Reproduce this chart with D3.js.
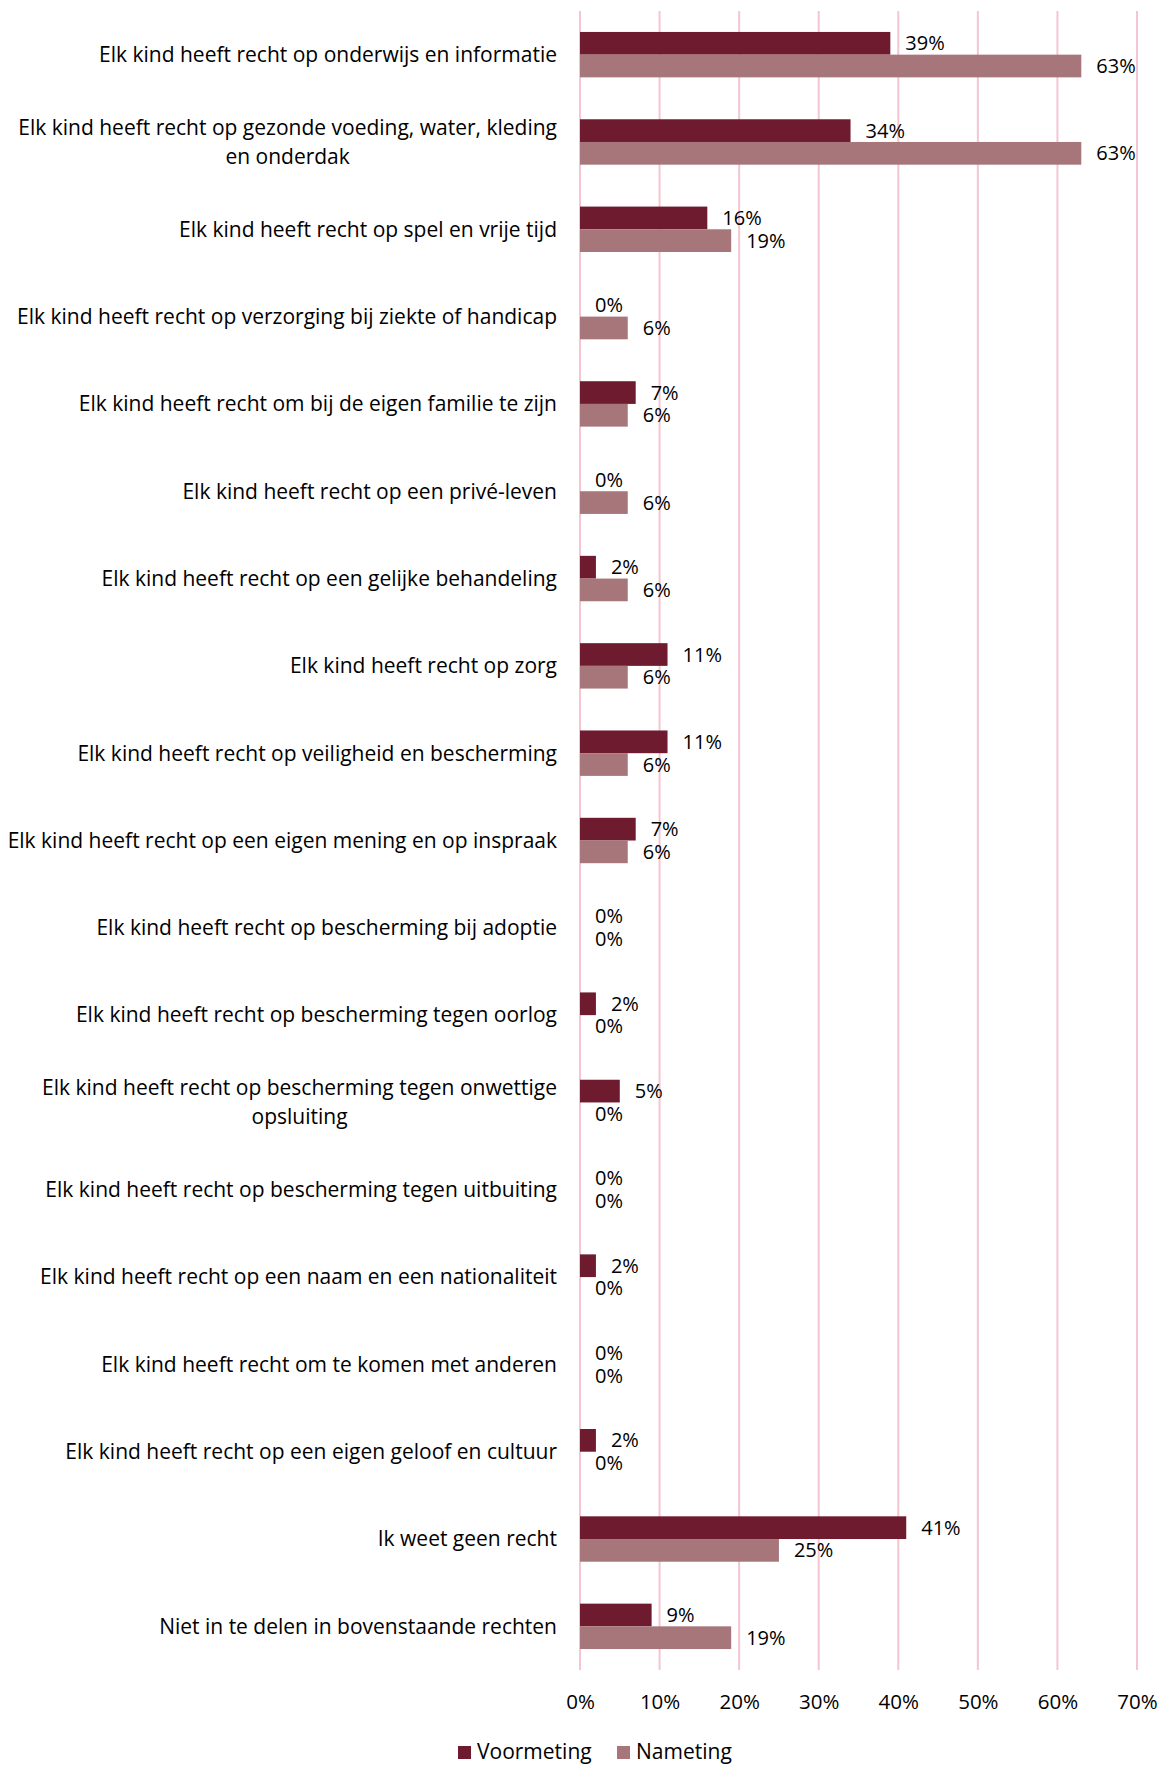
<!DOCTYPE html>
<html>
<head>
<meta charset="utf-8">
<script src="https://cdn.jsdelivr.net/npm/d3@7"></script>
<style>
  body { margin: 0; background: #fff; }
  svg { font-family: "Open Sans", "Noto Sans", sans-serif; }
  .cat { font-size: 21px; fill: #000; }
  .val { font-size: 20px; fill: #000; }
  .tick text { font-size: 20.5px; fill: #000; }
  .legend text { font-size: 21px; fill: #000; }
</style>
</head>
<body>
<svg id="chart" width="1165" height="1766"></svg>
<script>
var categories = [
  ["Elk kind heeft recht op onderwijs en informatie"],
  ["Elk kind heeft recht op gezonde voeding, water, kleding", "en onderdak"],
  ["Elk kind heeft recht op spel en vrije tijd"],
  ["Elk kind heeft recht op verzorging bij ziekte of handicap"],
  ["Elk kind heeft recht om bij de eigen familie te zijn"],
  ["Elk kind heeft recht op een privé-leven"],
  ["Elk kind heeft recht op een gelijke behandeling"],
  ["Elk kind heeft recht op zorg"],
  ["Elk kind heeft recht op veiligheid en bescherming"],
  ["Elk kind heeft recht op een eigen mening en op inspraak"],
  ["Elk kind heeft recht op bescherming bij adoptie"],
  ["Elk kind heeft recht op bescherming tegen oorlog"],
  ["Elk kind heeft recht op bescherming tegen onwettige", "opsluiting"],
  ["Elk kind heeft recht op bescherming tegen uitbuiting"],
  ["Elk kind heeft recht op een naam en een nationaliteit"],
  ["Elk kind heeft recht om te komen met anderen"],
  ["Elk kind heeft recht op een eigen geloof en cultuur"],
  ["Ik weet geen recht"],
  ["Niet in te delen in bovenstaande rechten"]
];
var voormeting = [39, 34, 16, 0, 7, 0, 2, 11, 11, 7, 0, 2, 5, 0, 2, 0, 2, 41, 9];
var nameting = [63, 63, 19, 6, 6, 6, 6, 6, 6, 6, 0, 0, 0, 0, 0, 0, 0, 25, 19];
var seriesNames = ["Voormeting", "Nameting"];
var xTicks = [0, 10, 20, 30, 40, 50, 60, 70];

var colors = ["#6e1a2f", "#a6767b"];

var svg = d3.select("#chart"),
  plotLeft = 580, plotRight = 1137, plotTop = 11, plotBottom = 1670;

var x = d3.scaleLinear().domain([0, 70]).range([plotLeft, plotRight]);
var y = d3.scaleBand().domain(d3.range(categories.length)).range([plotTop, plotBottom]).paddingInner(0.48).paddingOuter(0.24);
var ySub = d3.scaleBand().domain([0, 1]).range([0, y.bandwidth()]);

// gridlines
svg.append("g")
  .selectAll("line")
  .data(xTicks)
  .enter().append("line")
    .attr("x1", function(d) { return x(d); })
    .attr("x2", function(d) { return x(d); })
    .attr("y1", plotTop)
    .attr("y2", plotBottom)
    .attr("stroke", "#f4c6d1")
    .attr("stroke-width", 2);

// x axis labels
var xAxis = d3.axisBottom(x).tickValues(xTicks).tickSize(0).tickPadding(0)
  .tickFormat(function(d) { return d + "%"; });
svg.append("g")
  .attr("transform", "translate(0," + 1702 + ")")
  .call(xAxis)
  .attr("font-family", null)
  .attr("font-size", null)
  .call(function(g) { g.select(".domain").remove(); })
  .selectAll("text").attr("dy", "0.35em");

var rows = categories.map(function(c, i) {
  return { i: i, label: c, vals: [voormeting[i], nameting[i]] };
});

var row = svg.append("g").selectAll("g")
  .data(rows)
  .enter().append("g")
    .attr("transform", function(d) { return "translate(0," + y(d.i) + ")"; });

row.selectAll("rect")
  .data(function(d) { return d.vals; })
  .enter().append("rect")
    .attr("x", x(0))
    .attr("y", function(d, j) { return ySub(j); })
    .attr("width", function(d) { return x(d) - x(0); })
    .attr("height", ySub.bandwidth())
    .attr("fill", function(d, j) { return colors[j]; });

row.selectAll("text.val")
  .data(function(d) { return d.vals; })
  .enter().append("text")
    .attr("class", "val")
    .attr("x", function(d) { return x(d) + 15; })
    .attr("y", function(d, j) { return ySub(j) + ySub.bandwidth() / 2; })
    .attr("dy", "0.35em")
    .text(function(d) { return d + "%"; });

// category labels: block right aligned, lines centered inside it
var lineH = 29;
row.each(function(d) {
  var g = d3.select(this);
  var cy = y.bandwidth() / 2;
  var n = d.label.length;
  var t = g.append("text").attr("class", "cat").attr("text-anchor", "middle");
  var spans = t.selectAll("tspan")
    .data(d.label)
    .enter().append("tspan")
      .attr("y", function(s, k) { return cy + (k - (n - 1) / 2) * lineH; })
      .attr("dy", "0.35em")
      .text(function(s) { return s; });
  var w = 0;
  spans.each(function() { w = Math.max(w, this.getComputedTextLength()); });
  spans.attr("x", 557 - w / 2);
});

// legend
var legend = svg.append("g").attr("class", "legend");
var legX = [458, 617];
seriesNames.forEach(function(name, j) {
  legend.append("rect")
    .attr("x", legX[j]).attr("y", 1746)
    .attr("width", 13).attr("height", 13)
    .attr("fill", colors[j]);
  legend.append("text")
    .attr("x", legX[j] + 19).attr("y", 1752)
    .attr("dy", "0.35em")
    .text(name);
});
</script>
</body>
</html>
